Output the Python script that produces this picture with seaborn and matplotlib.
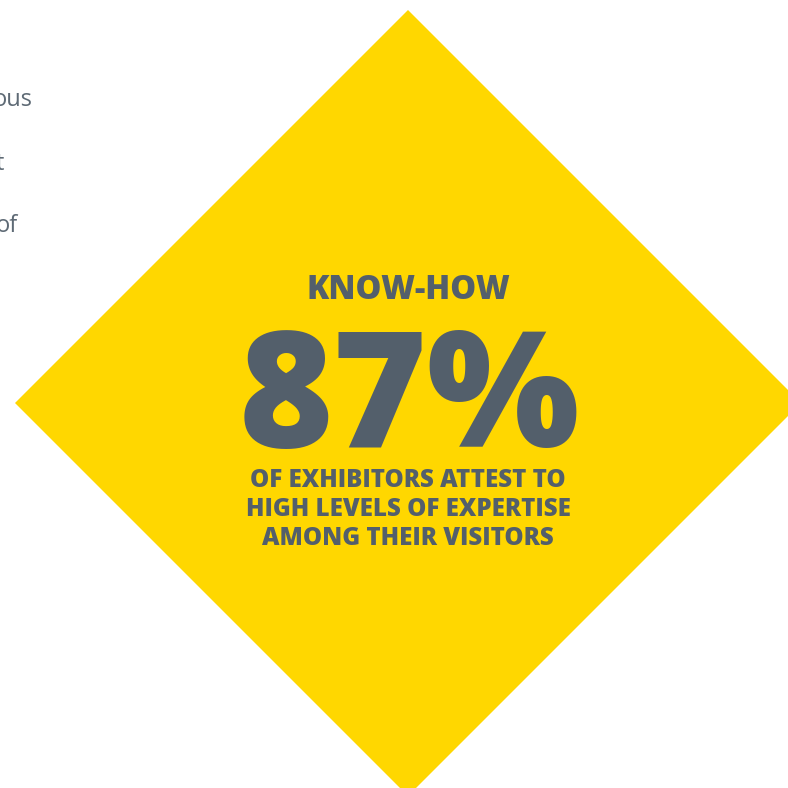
import matplotlib
matplotlib.use("Agg")
import matplotlib.pyplot as plt
import seaborn as sns

# diamond (center x, center y, half diagonal) in pixel coords
diamond_center = (408, 403)
diamond_radius = 393

# text content
heading = "KNOW-HOW"
big_value = "87%"
caption_lines = ["OF EXHIBITORS ATTEST TO",
                 "HIGH LEVELS OF EXPERTISE",
                 "AMONG THEIR VISITORS"]
side_words = ["ous", "t", "of"]

yellow = "#FFD700"
slate = "#535F6B"
side_grey = "#5E6A75"

sns.set_theme(style="white")
plt.rcParams["font.family"] = ["Open Sans", "DejaVu Sans"]

fig = plt.figure(figsize=(7.88, 7.88), dpi=100)
ax = fig.add_axes([0, 0, 1, 1])
ax.set_xlim(0, 788)
ax.set_ylim(788, 0)
ax.axis("off")

cx, cy = diamond_center
r = diamond_radius
ax.fill([cx - r, cx, cx + r, cx, cx - r],
        [cy, cy - r, cy, cy + r, cy],
        color=yellow, lw=0, zorder=1)

# clipped paragraph on the left
for word, x, y in zip(side_words, [33, 4, 18], [106, 170, 232]):
    ax.text(x, y, word, ha="right", va="baseline", fontsize=17,
            color=side_grey, zorder=0)

ax.text(408, 299, heading, ha="center", va="baseline", fontsize=23.5,
        fontweight=800, color=slate, zorder=2)
ax.text(409, 447, big_value, ha="center", va="baseline", fontsize=116,
        fontweight=800, color=slate, zorder=2)
for line, y in zip(caption_lines, [487, 516, 545]):
    ax.text(408, y, line, ha="center", va="baseline", fontsize=17.4,
            fontweight=800, color=slate, zorder=2)

fig.savefig("out.png", dpi=100)
